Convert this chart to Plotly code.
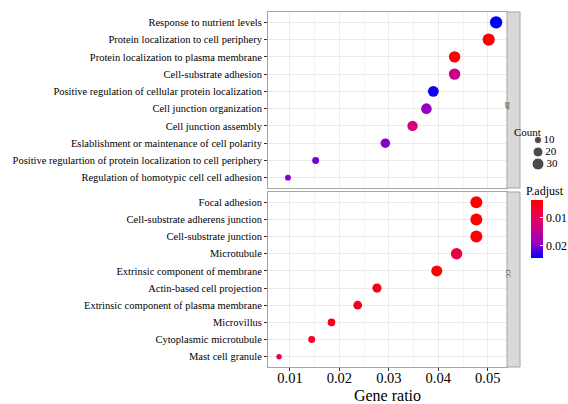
import math
import plotly.graph_objects as go

# ---------------- data ----------------
bp_terms = [
    "Response to nutrient levels",
    "Protein localization to cell periphery",
    "Protein localization to plasma membrane",
    "Cell-substrate adhesion",
    "Positive regulation of cellular protein localization",
    "Cell junction organization",
    "Cell junction assembly",
    "Eslablishment or maintenance of cell polarity",
    "Positive regulartion of protein localization to cell periphery",
    "Regulation of homotypic cell cell adhesion",
]
bp_ratio = [0.0517, 0.0502, 0.0433, 0.0433, 0.0390, 0.0376, 0.0348, 0.0293, 0.0152, 0.0096]
bp_count = [32, 31, 27, 27, 24, 23, 22, 18, 9, 6]
bp_padj = [0.0245, 0.0036, 0.0037, 0.0140, 0.0240, 0.0195, 0.0125, 0.0200, 0.0205, 0.0200]

cc_terms = [
    "Focal adhesion",
    "Cell-substrate adherens junction",
    "Cell-substrate junction",
    "Microtubule",
    "Extrinsic component of membrane",
    "Actin-based cell projection",
    "Extrinsic component of plasma membrane",
    "Microvillus",
    "Cytoplasmic microtubule",
    "Mast cell granule",
]
cc_ratio = [0.0477, 0.0477, 0.0477, 0.0437, 0.0397, 0.0276, 0.0237, 0.0184, 0.0144, 0.0078]
cc_count = [30, 30, 30, 27, 25, 17, 15, 11, 9, 5]
cc_padj = [0.0035, 0.0036, 0.0036, 0.0080, 0.0040, 0.0048, 0.0058, 0.0050, 0.0060, 0.0095]

facet_labels = ["BP", "CC"]
x_ticks = [0.01, 0.02, 0.03, 0.04, 0.05]
count_legend = [10, 20, 30]
padj_ticks = [0.01, 0.02]

# ---------------- styling helpers ----------------
FONT = "Liberation Serif"
BORDER = "#A6A6A6"
GRID = "#EBEBEB"
MINOR = "#F4F4F4"


def diam(c):
    return 0.88 + 2.03 * math.sqrt(c)


all_padj = bp_padj + cc_padj
pmin, pmax = min(all_padj), max(all_padj)

# ggplot-like red->blue (Lab) gradient; colour values negated so low p (red) sits on top
scale = [[0.0, "#0000FF"], [0.25, "#9A00C3"], [0.5, "#CA0088"], [0.75, "#E8004F"], [1.0, "#FF0000"]]

W, H = 568, 404
ML, MR, MT, MB = 268, 10, 12, 404 - 367
pw = W - ML - MR
ph = H - MT - MB


def px_x(x):  # x in window pixels -> paper fraction
    return (x - ML) / pw


def px_y(y):
    return (H - MB - y) / ph


x_dom = [0, px_x(507)]
strip_dom = [px_x(507), px_x(520)]
top_dom = [px_y(188), 1]
bot_dom = [0, px_y(192)]

fig = go.Figure()

fig.add_trace(go.Scatter(
    x=bp_ratio, y=bp_terms, mode="markers", xaxis="x", yaxis="y",
    marker=dict(size=[diam(c) for c in bp_count], color=[-p for p in bp_padj],
                coloraxis="coloraxis", line=dict(width=0), opacity=1),
    showlegend=False, hoverinfo="skip"))
fig.add_trace(go.Scatter(
    x=cc_ratio, y=cc_terms, mode="markers", xaxis="x2", yaxis="y2",
    marker=dict(size=[diam(c) for c in cc_count], color=[-p for p in cc_padj],
                coloraxis="coloraxis", line=dict(width=0), opacity=1),
    showlegend=False, hoverinfo="skip"))

# size legend
fig.add_trace(go.Scatter(
    x=[0] * len(count_legend), y=[str(c) for c in count_legend], mode="markers+text",
    xaxis="x3", yaxis="y3",
    marker=dict(size=[diam(c) for c in count_legend], color="black"),
    text=[str(c) for c in count_legend], textposition="middle right",
    textfont=dict(family=FONT, size=11, color="black"),
    showlegend=False, hoverinfo="skip", cliponaxis=False))

xr = [0.00556, 0.0539]
common_x = dict(range=xr, showline=True, mirror=True, linecolor=BORDER, linewidth=1,
                gridcolor=GRID, gridwidth=1, zeroline=False, tickvals=x_ticks,
                minor=dict(tick0=0.005, dtick=0.005, showgrid=True, gridcolor=MINOR, gridwidth=1))
common_y = dict(showline=True, mirror=True, linecolor=BORDER, linewidth=1, gridcolor=GRID,
                zeroline=False, ticks="outside", ticklen=3, tickcolor="#333333",
                tickfont=dict(family=FONT, size=10.5, color="black"), range=[9.6, -0.6],
                automargin=False)

fig.update_layout(
    width=W, height=H, margin=dict(l=ML, r=MR, t=MT, b=MB, autoexpand=False),
    paper_bgcolor="white", plot_bgcolor="white",
    xaxis=dict(domain=x_dom, anchor="y", showticklabels=False, ticks="", automargin=False, **common_x),
    yaxis=dict(domain=top_dom, anchor="x", type="category", categoryarray=bp_terms, **common_y),
    xaxis2=dict(domain=x_dom, anchor="y2", matches="x", showticklabels=True, ticks="outside",
                ticklen=3, tickcolor="#333333", tickformat=".2f", automargin=False,
                ticklabelstandoff=-5,
                tickfont=dict(family=FONT, size=14.5, color="black"),
                title=dict(text="Gene ratio", font=dict(family=FONT, size=16, color="black"), standoff=4),
                **common_x),
    yaxis2=dict(domain=bot_dom, anchor="x2", type="category", categoryarray=cc_terms, **common_y),
    xaxis3=dict(domain=[px_x(523), 1.0], anchor="y3", range=[-1.2, 1.6], visible=False, automargin=False),
    yaxis3=dict(domain=[px_y(170), px_y(134)], anchor="x3", type="category", automargin=False,
                categoryarray=[str(c) for c in count_legend], range=[2.5, -0.5], visible=False),
    coloraxis=dict(
        colorscale=scale, cmin=-pmax, cmax=-pmin,
        colorbar=dict(
            x=px_x(531), xanchor="left", y=px_y(229), yanchor="middle",
            thickness=12, len=58, lenmode="pixels", xpad=0, ypad=0,
            outlinewidth=0, tickvals=[-t for t in padj_ticks],
            ticktext=[str(t) for t in padj_ticks], ticks="inside", ticklen=3, tickcolor="white",
            tickfont=dict(family=FONT, size=12, color="black"),
        ),
    ),
)

# facet strips
for lab, dom in zip(facet_labels, [top_dom, bot_dom]):
    fig.add_shape(type="rect", xref="paper", yref="paper", x0=strip_dom[0], x1=strip_dom[1],
                  y0=dom[0], y1=dom[1], fillcolor="#D9D9D9", line=dict(color=BORDER, width=1),
                  layer="above")
    fig.add_annotation(x=(strip_dom[0] + strip_dom[1]) / 2, y=(dom[0] + dom[1]) / 2,
                       xref="paper", yref="paper", text=lab, textangle=90, showarrow=False,
                       font=dict(family="DejaVu Sans", size=6, color="#4D4D4D"))

fig.add_annotation(x=px_x(543), y=px_y(124), xref="paper", yref="paper", text="Count",
                   showarrow=False, font=dict(family=FONT, size=11, color="black"))
fig.add_annotation(x=px_x(524), y=px_y(191), xref="paper", yref="paper", text="P.adjust",
                   xanchor="left", showarrow=False, font=dict(family=FONT, size=12, color="black"))

# remove the browser's default 8px body margin so the figure sits at the window corner
fig.write_html("out.html",
               config={"displayModeBar": False},
               post_script="document.body.style.margin='0';document.body.style.overflow='hidden';")
